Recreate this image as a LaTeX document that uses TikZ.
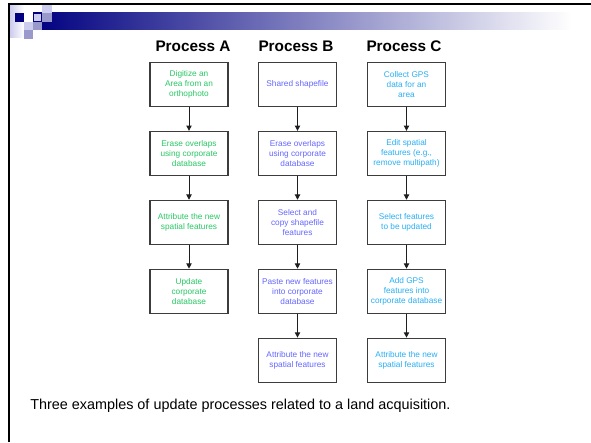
\documentclass[tikz,border=0pt]{standalone}
\usepackage{fontspec}
\setmainfont{Liberation Sans}
\usetikzlibrary{positioning,arrows.meta}

\definecolor{navy}{RGB}{0,0,128}
\definecolor{lightlav}{RGB}{204,204,238}
\definecolor{midlav}{RGB}{153,153,204}
\definecolor{procA}{RGB}{40,200,100}
\definecolor{procB}{RGB}{102,102,255}
\definecolor{procC}{RGB}{40,175,245}

\tikzset{
  procbox/.style={draw={rgb,255:red,60;green,60;blue,60}, line width=0.9pt,
    minimum width=58.5pt, minimum height=33pt, inner sep=1pt,
    align=center, font=\fontsize{6.2}{7.5}\selectfont},
  flow/.style={draw={rgb,255:red,30;green,30;blue,30}, line width=0.75pt,
    -{Triangle[length=4pt,width=4pt]}},
  header/.style={font=\fontsize{11.5}{14}\selectfont\bfseries},
}

\begin{document}
\begin{tikzpicture}[x=0.75pt,y=0.75pt,yscale=-1,xscale=1]
\useasboundingbox (0,0) rectangle (591,442);
\fill[white] (0,0) rectangle (591,442);
%Shape: title bar
\shade[left color=navy, right color=white] (33,13) rectangle (572,30);
\shade[left color=lightlav, right color=white] (10,5) rectangle (24,38);
%Shape: corner squares
\fill[navy] (15,13) rectangle (24,22);
\draw[navy, fill=lightlav, line width=0.6pt] (33.3,13.3) rectangle (41.7,21.7);
\fill[lightlav] (42,4) rectangle (52,13);
\fill[midlav] (42,13) rectangle (52,22);
\fill[lightlav] (24,22) rectangle (33,30);
\fill[midlav] (33,22) rectangle (42,30);
\fill[midlav] (24,30) rectangle (33,39);
%Straight Lines: slide frame
\draw[line width=1.5pt] (9,442) -- (9,4) -- (591,4);

% Text Node: headers
\node[header] (hA) at (193,46) {Process A};
\node[header] (hB) at (296,46) {Process B};
\node[header] (hC) at (404,46) {Process C};

% Process A
\node[procbox, text=procA] (a1) at (189,84.5) {Digitize an\\Area from an\\orthophoto};
\node[procbox, text=procA, below=17.8pt of a1] (a2) {Erase overlaps\\using corporate\\database};
\node[procbox, text=procA, below=17.8pt of a2] (a3) {Attribute the new\\spatial features};
\node[procbox, text=procA, below=17.8pt of a3] (a4) {Update\\corporate\\database};

% Process B
\node[procbox, text=procB] (b1) at (297.5,84.5) {Shared shapefile};
\node[procbox, text=procB, below=17.8pt of b1] (b2) {Erase overlaps\\using corporate\\database};
\node[procbox, text=procB, below=17.8pt of b2] (b3) {Select and\\copy shapefile\\features};
\node[procbox, text=procB, below=17.8pt of b3] (b4) {Paste new features\\into corporate\\database};
\node[procbox, text=procB, below=17.8pt of b4] (b5) {Attribute the new\\spatial features};

% Process C
\node[procbox, text=procC] (c1) at (406.5,84.5) {Collect GPS\\data for an\\area};
\node[procbox, text=procC, below=17.8pt of c1] (c2) {Edit spatial\\features (e.g.,\\remove multipath)};
\node[procbox, text=procC, below=17.8pt of c2] (c3) {Select features\\to be updated};
\node[procbox, text=procC, below=17.8pt of c3] (c4) {Add GPS\\features into\\corporate database};
\node[procbox, text=procC, below=17.8pt of c4] (c5) {Attribute the new\\spatial features};

%Straight Lines: arrows
\foreach \p/\q in {a1/a2,a2/a3,a3/a4,b1/b2,b2/b3,b3/b4,b4/b5,c1/c2,c2/c3,c3/c4,c4/c5}
  \draw[flow] (\p) -- (\q);

% Text Node: caption
\node[anchor=west, inner sep=0pt, font=\fontsize{10.8}{13}\selectfont] (cap) at (30,406)
  {Three examples of update processes related to a land acquisition.};
\end{tikzpicture}
\end{document}
